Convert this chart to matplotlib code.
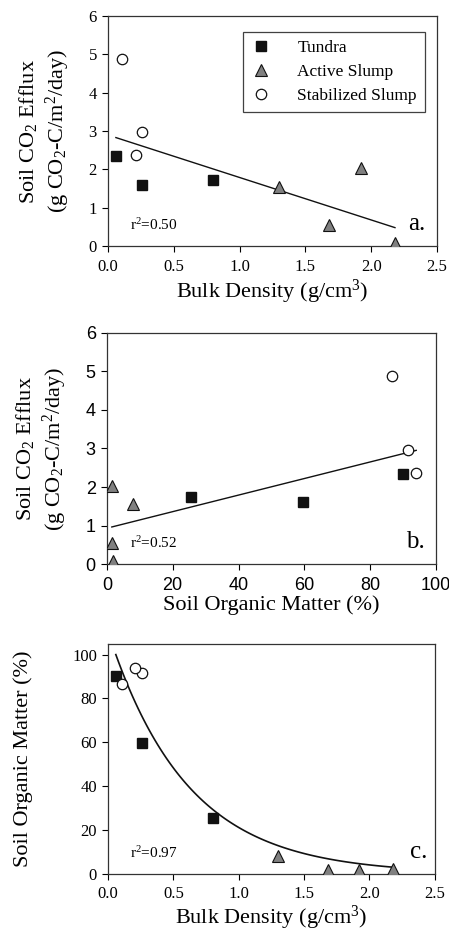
#!/usr/bin/env python3

import numpy as np
import matplotlib
matplotlib.use('Agg')
import matplotlib.pyplot as plt

# bulk density (g/cm3), soil organic matter (%), CO2 efflux (g CO2-C/m2/day)
tundra_bd = [0.06, 0.26, 0.80]
tundra_som = [90.0, 59.5, 25.5]
tundra_flux = [2.35, 1.60, 1.73]

active_bd = [1.30, 1.68, 1.92, 2.18]
active_som = [8.0, 1.5, 1.5, 2.0]
active_flux = [1.55, 0.55, 2.03, 0.08]

stab_bd = [0.11, 0.26, 0.21]
stab_som = [86.5, 91.5, 94.0]
stab_flux = [4.87, 2.97, 2.37]

# fitted relationships
fit_a = (-1.108, 2.896)      # flux = m*bd + c, bd 0.06..2.18
fit_b = (0.0215, 0.93)       # flux = m*som + c, som 1.5..94
fit_c = (110.4, 1.655)       # som = a*exp(-b*bd)
r2_labels = ['r$^2$=0.50', 'r$^2$=0.52', 'r$^2$=0.97']

SERIF = 'Liberation Serif'
SANS = 'Liberation Sans'

plt.rcParams['font.family'] = SERIF
plt.rcParams['mathtext.fontset'] = 'custom'
plt.rcParams['mathtext.rm'] = SERIF
plt.rcParams['mathtext.it'] = SERIF + ':italic'
plt.rcParams['mathtext.default'] = 'regular'

LABEL_SIZE = 16


def scatter_groups(ax, xs, ys):
    ax.plot(xs[0], ys[0], 's', ms=7, mfc='#111111', mec='#111111',
            ls='none', label='Tundra', zorder=3)
    ax.plot(xs[1], ys[1], '^', ms=8, mfc='#808080', mec='#111111', mew=0.8,
            ls='none', label='Active Slump', zorder=3)
    ax.plot(xs[2], ys[2], 'o', ms=7.5, mfc='white', mec='#111111', mew=0.9,
            ls='none', label='Stabilized Slump', zorder=3)


def style(ax, tick_family, size=12):
    ax.tick_params(direction='out', length=4, width=0.8, labelsize=size,
                   top=False, right=False)
    ax.tick_params(axis='x', pad=5)
    ax.tick_params(axis='y', pad=4)
    for lab in ax.get_xticklabels() + ax.get_yticklabels():
        lab.set_family(tick_family)
    for sp in ax.spines.values():
        sp.set_linewidth(0.9)
        sp.set_color('#333333')


fig = plt.figure(figsize=(4.49, 9.32), dpi=100)
flux_label = 'Soil CO$_2$ Efflux\n(g CO$_2$-C/m$^2$/day)'

# panel a
ax = fig.add_axes([0.2405, 0.736, 0.733, 0.2468])
scatter_groups(ax, [tundra_bd, active_bd, stab_bd],
               [tundra_flux, active_flux, stab_flux])
xx = np.linspace(0.06, 2.18, 50)
ax.plot(xx, fit_a[0] * xx + fit_a[1], color='#111111', lw=1.0)
ax.set_xlim(0, 2.5)
ax.set_ylim(0, 6)
ax.set_xticks(np.arange(0, 2.51, 0.5))
ax.set_xticklabels(['%.1f' % v for v in np.arange(0, 2.51, 0.5)])
ax.set_yticks(range(7))
ax.set_xlabel('Bulk Density (g/cm$^3$)', fontsize=LABEL_SIZE, labelpad=2)
ax.set_ylabel(flux_label, fontsize=LABEL_SIZE, labelpad=12, linespacing=1.25)
ax.text(0.17, 0.42, r2_labels[0], fontsize=11)
ax.text(2.28, 0.42, 'a.', fontsize=18)
leg = ax.legend(loc='upper right', bbox_to_anchor=(0.962, 0.93),
                fancybox=False, edgecolor='#111111', fontsize=12.5,
                handletextpad=1.5, borderpad=0.45, labelspacing=0.45,
                handlelength=1.2, borderaxespad=0)
leg.get_frame().set_linewidth(0.9)
style(ax, SERIF)

# panel b
ax = fig.add_axes([0.238, 0.3948, 0.733, 0.248])
scatter_groups(ax, [tundra_som, active_som, stab_som],
               [tundra_flux, active_flux, stab_flux])
xx = np.linspace(1.5, 94, 50)
ax.plot(xx, fit_b[0] * xx + fit_b[1], color='#111111', lw=1.0)
ax.set_xlim(0, 100)
ax.set_ylim(0, 6)
ax.set_xticks(range(0, 101, 20))
ax.set_yticks(range(7))
ax.set_xlabel('Soil Organic Matter (%)', fontsize=LABEL_SIZE, labelpad=1)
ax.set_ylabel(flux_label, fontsize=LABEL_SIZE, labelpad=12, linespacing=1.25)
ax.text(7, 0.42, r2_labels[1], fontsize=11)
ax.text(91, 0.42, 'b.', fontsize=18)
style(ax, SANS, size=13)

# panel c
ax = fig.add_axes([0.2405, 0.0625, 0.728, 0.247])
scatter_groups(ax, [tundra_bd, active_bd, stab_bd],
               [tundra_som, active_som, stab_som])
xx = np.linspace(0.06, 2.18, 100)
ax.plot(xx, fit_c[0] * np.exp(-fit_c[1] * xx), color='#111111', lw=1.2)
ax.set_xlim(0, 2.5)
ax.set_ylim(0, 105)
ax.set_xticks(np.arange(0, 2.51, 0.5))
ax.set_xticklabels(['%.1f' % v for v in np.arange(0, 2.51, 0.5)])
ax.set_yticks(range(0, 101, 20))
ax.set_xlabel('Bulk Density (g/cm$^3$)', fontsize=LABEL_SIZE, labelpad=1)
ax.set_ylabel('Soil Organic Matter (%)', fontsize=LABEL_SIZE, labelpad=28)
ax.text(0.17, 7, r2_labels[2], fontsize=11)
ax.text(2.31, 7, 'c.', fontsize=18)
style(ax, SERIF)

fig.savefig('out.png', dpi=100)
